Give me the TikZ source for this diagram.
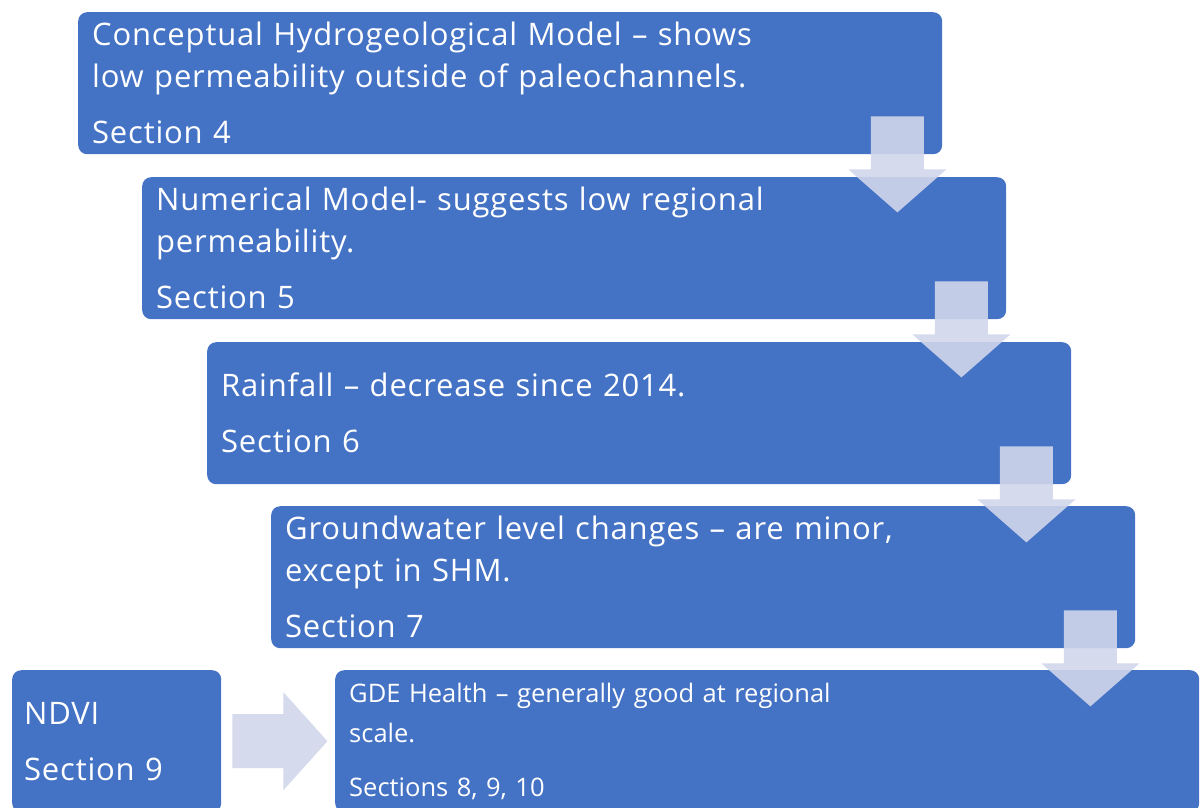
\documentclass[tikz,border=0pt]{standalone}
\usepackage{fontspec}
\setmainfont{Open Sans}
\usetikzlibrary{calc}
\definecolor{cajaazul}{HTML}{4472C4}
\definecolor{lavanda}{RGB}{208,214,234}
\tikzset{
  caja/.style={
    rounded corners=9pt,
    fill=cajaazul,
    text=white,
    anchor=north west,
    align=left,
    text width=836pt,
    minimum height=142pt,
    inner xsep=14pt,
    inner ysep=0pt,
    font=\fontsize{31}{42}\selectfont\addfontfeatures{LetterSpace=2.6}
  },
  hueco/.style={
    fill=lavanda,
    fill opacity=.9
  },
  abajo/.pic={
    \fill[hueco] (-26.5,0) -- (26.5,0) -- (26.5,53) -- (49,53) -- (0,96)
      -- (-49,53) -- (-26.5,53) -- cycle;
  },
  derecha/.pic={
    \fill[hueco] (0,-27) -- (51,-27) -- (51,-49) -- (95,0) -- (51,49)
      -- (51,27) -- (0,27) -- cycle;
  }
}

\begin{document}
\begin{tikzpicture}[x=1pt,y=-1pt]
\useasboundingbox (0,0) rectangle (1203,807);
\node[caja] (a) at (78,12) {Conceptual Hydrogeological Model – shows\\low permeability outside of paleochannels.\\[14pt]Section 4};
\node[caja] (b) at (142,177) {Numerical Model- suggests low regional\\permeability.\\[14pt]Section 5};
\node[caja] (c) at (207,342) {Rainfall – decrease since 2014.\\[14pt]Section 6};
\node[caja] (d) at (271,506) {Groundwater level changes – are minor,\\except in SHM.\\[14pt]Section 7};
\node[caja,font=\fontsize{25.5}{40}\selectfont] (e) at (335,670) {GDE Health – generally good at regional\\scale.\\[14pt]Sections 8, 9, 10};
\node[caja,text width=185pt,inner xsep=12pt] (n) at (12,670) {NDVI\\[14pt]Section 9};
% flechas entre cajas
\pic at ($(a.south east)+(-45,-38)$) {abajo};
\pic at ($(b.south east)+(-45,-38)$) {abajo};
\pic at ($(c.south east)+(-45,-38)$) {abajo};
\pic at ($(d.south east)+(-45,-38)$) {abajo};
\pic at ($(n.east)+(11,0)$) {derecha};
\end{tikzpicture}
\end{document}
